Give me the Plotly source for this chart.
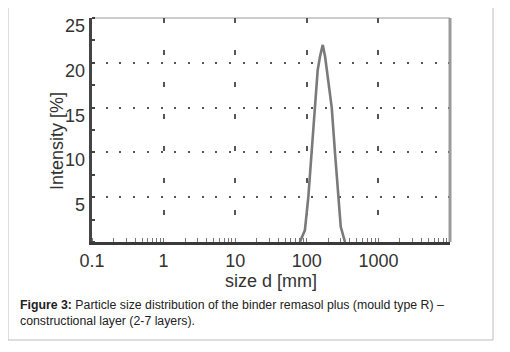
import plotly.graph_objects as go

# Data
size_d = [80, 94, 105, 117, 130, 142, 153, 167, 180, 193, 223, 248, 276, 298, 342]
intensity = [0, 1.3, 5, 9.9, 15, 19.2, 20.7, 22, 20.7, 18.8, 15, 9.9, 5, 1.7, 0]

x_tickvals = [0.1, 1, 10, 100, 1000]
x_ticktext = ["0.1", "1", "10", "100", "1000"]
y_tickvals = [5, 10, 15, 20, 25]
y_ticktext = ["5", "10", "15", "20", "25"]

# the page body has an 8px margin, so the figure is drawn 8px smaller and offset
OFF = 8
W, H = 510 - OFF, 352 - OFF
L, T = 92 - OFF, 18 - OFF
pw, ph = 358, 224
R, B = W - L - pw, H - T - ph

def px_x(p):
    return (p - OFF - L) / pw

def px_y(p):
    return 1 - (p - OFF - T) / ph

FONT = "Liberation Sans, Arial, sans-serif"
TXT = "#333333"

fig = go.Figure()
fig.add_trace(go.Scatter(
    x=size_d, y=intensity, mode="lines",
    line=dict(color="#7a7a7a", width=2.6),
    hoverinfo="skip", showlegend=False,
))

fig.update_xaxes(
    type="log", range=[-1, 4],
    tickvals=x_tickvals, ticktext=x_ticktext,
    ticks="", tickfont=dict(family=FONT, size=18, color=TXT),
    showline=True, linewidth=3, linecolor="#3a3a3a",
    showgrid=True, gridcolor="#555555", gridwidth=1.5, griddash="5px,27px",
    minor=dict(ticks="inside", dtick="D1", ticklen=4, tickwidth=1, tickcolor="#777777", showgrid=False),
    zeroline=False,
    title=dict(text="size d [mm]", font=dict(family=FONT, size=18, color=TXT), standoff=4),
)
fig.update_yaxes(
    range=[0, 25],
    tickvals=y_tickvals, showticklabels=False,
    ticks="", showline=True, linewidth=2.5, linecolor="#444444",
    showgrid=True, gridcolor="#555555", gridwidth=2, griddash="2px,11.7px",
    minor=dict(dtick=2.5, ticks="inside", ticklen=3, tickwidth=2, tickcolor="#444444", showgrid=False),
    zeroline=False,
)

annotations = []
for v, t in zip(y_tickvals, y_ticktext):
    annotations.append(dict(
        x=0, xref="paper", y=v, yref="y", text=t, showarrow=False,
        xanchor="right", yanchor="middle", xshift=-5, yshift=-8,
        font=dict(family=FONT, size=18, color=TXT),
    ))
annotations.append(dict(
    x=px_x(57), xref="paper", y=px_y(141), yref="paper", text="Intensity [%]",
    textangle=-90, showarrow=False, xanchor="center", yanchor="middle",
    font=dict(family=FONT, size=18, color=TXT),
))
annotations.append(dict(
    x=px_x(18), xref="paper", y=px_y(296), yref="paper",
    text="<b>Figure 3:</b> Particle size distribution of the binder remasol plus (mould type R) –<br>constructional layer (2-7 layers).",
    showarrow=False, xanchor="left", yanchor="top", align="left",
    font=dict(family=FONT, size=12.3, color="#222222"),
))

x0, x1, y0, y1 = px_x(8), px_x(493), px_y(5), px_y(340)
shapes = [
    dict(type="rect", xref="paper", yref="paper", x0=x0, x1=x1, y0=y1, y1=y0,
         line=dict(color="#bdbdbd", width=1), layer="below"),
    dict(type="line", xref="paper", yref="paper", x0=0, x1=1, y0=1, y1=1,
         line=dict(color="#9a9a9a", width=1.2), layer="below"),
    dict(type="line", xref="paper", yref="paper", x0=1, x1=1, y0=0, y1=1,
         line=dict(color="#9a9a9a", width=3)),
]

fig.update_layout(
    width=W, height=H,
    margin=dict(l=L, r=R, t=T, b=B),
    paper_bgcolor="white", plot_bgcolor="white",
    annotations=annotations, shapes=shapes,
    showlegend=False,
)

fig.write_html("out.html")
